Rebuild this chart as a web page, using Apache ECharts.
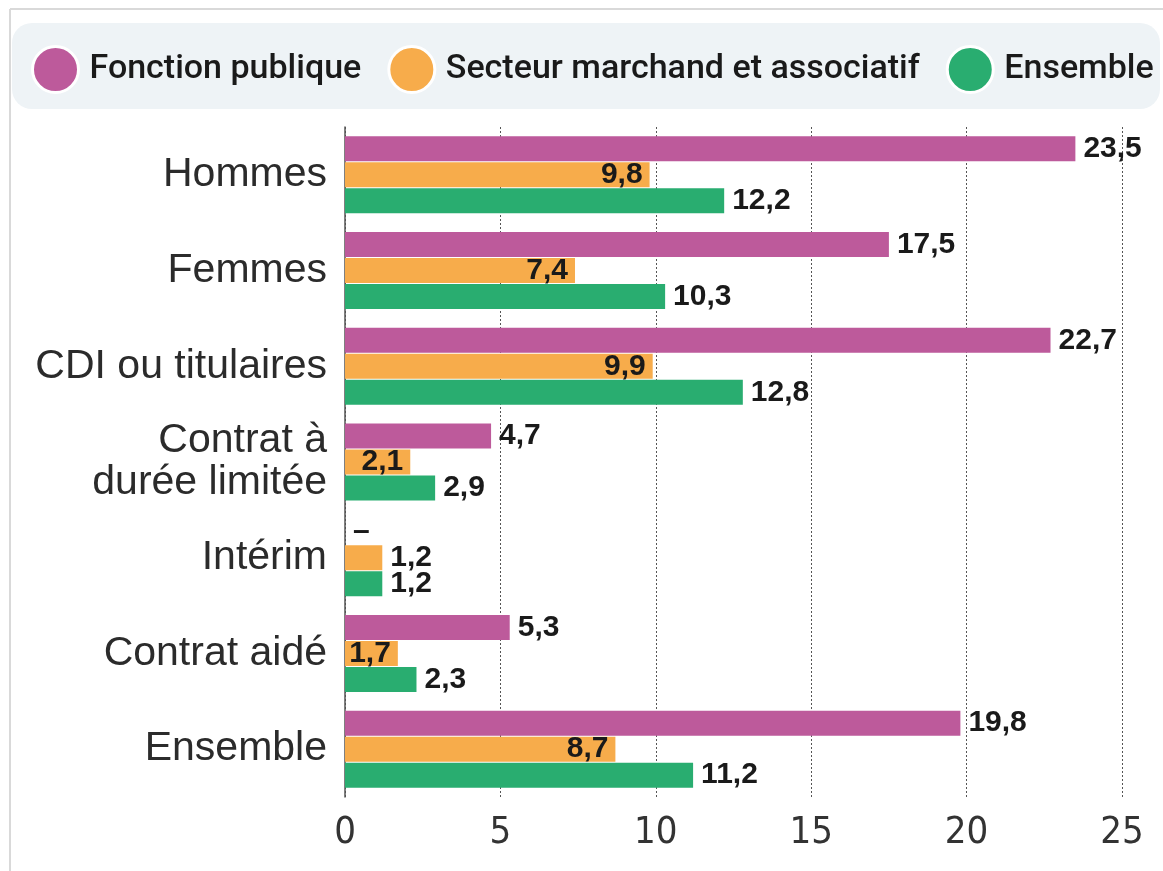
<!DOCTYPE html>
<html>
<head>
<meta charset="utf-8">
<script src="https://cdn.jsdelivr.net/npm/echarts@6/dist/echarts.min.js"></script>
<style>
  html, body { margin: 0; padding: 0; background: #fff; }
  #main { width: 1163px; height: 871px; }
</style>
</head>
<body>
<div id="main"></div>
<script>
// données
var categories = ['Hommes', 'Femmes', 'CDI ou titulaires', 'Contrat à\ndurée limitée', 'Intérim', 'Contrat aidé', 'Ensemble'];
var fonctionPublique = [23.5, 17.5, 22.7, 4.7, null, 5.3, 19.8];
var secteurMarchand = [9.8, 7.4, 9.9, 2.1, 1.2, 1.7, 8.7];
var ensemble = [12.2, 10.3, 12.8, 2.9, 1.2, 2.3, 11.2];
var xTicks = [0, 5, 10, 15, 20, 25];

var colors = ['#bd5a9b', '#f7ac4b', '#29ad70'];

function fmt(v) {
    return String(v).replace('.', ',');
}

var labelFont = {
    fontFamily: 'Liberation Sans, Arial, sans-serif',
    fontWeight: 'bold',
    fontSize: 30,
    color: '#1a1a1a'
};

// fonction publique : valeur manquante affichée "–"
var fpData = fonctionPublique.map(function (v) {
    if (v === null) {
        return { value: 0, label: { formatter: '–' } };
    }
    return v;
});

// secteur marchand : étiquette dans la barre sauf quand elle est trop courte
var smData = secteurMarchand.map(function (v, i) {
    if (categories[i] === 'Intérim') {
        return { value: v, label: { position: 'right', distance: 8 } };
    }
    return v;
});

var chart = echarts.init(document.getElementById('main'));

chart.setOption({
    animation: false,
    color: colors,
    graphic: [
        { type: 'line', shape: { x1: 10, y1: 9, x2: 1163, y2: 9 }, style: { stroke: '#d9d9d9', lineWidth: 2 }, silent: true },
        { type: 'line', shape: { x1: 10, y1: 9, x2: 10, y2: 871 }, style: { stroke: '#d9d9d9', lineWidth: 2 }, silent: true },
        { type: 'rect', shape: { x: 12, y: 23, width: 1148, height: 86, r: 20 }, style: { fill: '#eef3f6' }, silent: true, z: -1 }
    ],
    legend: {
        left: 26,
        top: 40,
        width: 1130,
        itemWidth: 46,
        itemHeight: 46,
        itemGap: 26,
        icon: 'circle',
        itemStyle: { borderColor: '#fff', borderWidth: 3 },
        textStyle: {
            fontFamily: 'Roboto, sans-serif',
            fontWeight: 500,
            fontSize: 34,
            color: '#1a1a1a',
            padding: [0, 0, 0, 6]
        },
        data: ['Fonction publique', 'Secteur marchand et associatif', 'Ensemble']
    },
    grid: {
        left: 345,
        right: 41,
        top: 127,
        bottom: 74
    },
    xAxis: {
        type: 'value',
        min: 0,
        max: 25,
        interval: 5,
        axisLine: { show: false },
        axisTick: { show: false },
        splitLine: { show: true, lineStyle: { color: '#555', type: [2, 2], width: 1 } },
        axisLabel: {
            margin: 17,
            fontFamily: 'DejaVu Sans Condensed, sans-serif',
            fontSize: 38,
            color: '#333',
            formatter: function (v) { return xTicks.indexOf(v) >= 0 ? String(v) : ''; }
        }
    },
    yAxis: {
        type: 'category',
        inverse: true,
        data: categories,
        axisLine: { show: true, lineStyle: { color: '#555', width: 1.5 } },
        axisTick: { show: false },
        axisLabel: {
            margin: 18,
            fontFamily: 'Liberation Sans, Arial, sans-serif',
            fontSize: 41,
            lineHeight: 42,
            color: '#2b2b2b',
            align: 'right'
        }
    },
    series: [
        {
            name: 'Fonction publique',
            type: 'bar',
            barWidth: 25,
            barGap: '4%',
            data: fpData,
            label: Object.assign({ show: true, position: 'right', distance: 8, formatter: function (p) { return fmt(p.value); } }, labelFont)
        },
        {
            name: 'Secteur marchand et associatif',
            type: 'bar',
            barWidth: 25,
            barGap: '4%',
            data: smData,
            label: Object.assign({ show: true, position: 'insideRight', distance: 7, formatter: function (p) { return fmt(p.value); } }, labelFont)
        },
        {
            name: 'Ensemble',
            type: 'bar',
            barWidth: 25,
            barGap: '4%',
            data: ensemble,
            label: Object.assign({ show: true, position: 'right', distance: 8, formatter: function (p) { return fmt(p.value); } }, labelFont)
        }
    ]
});
</script>
</body>
</html>
